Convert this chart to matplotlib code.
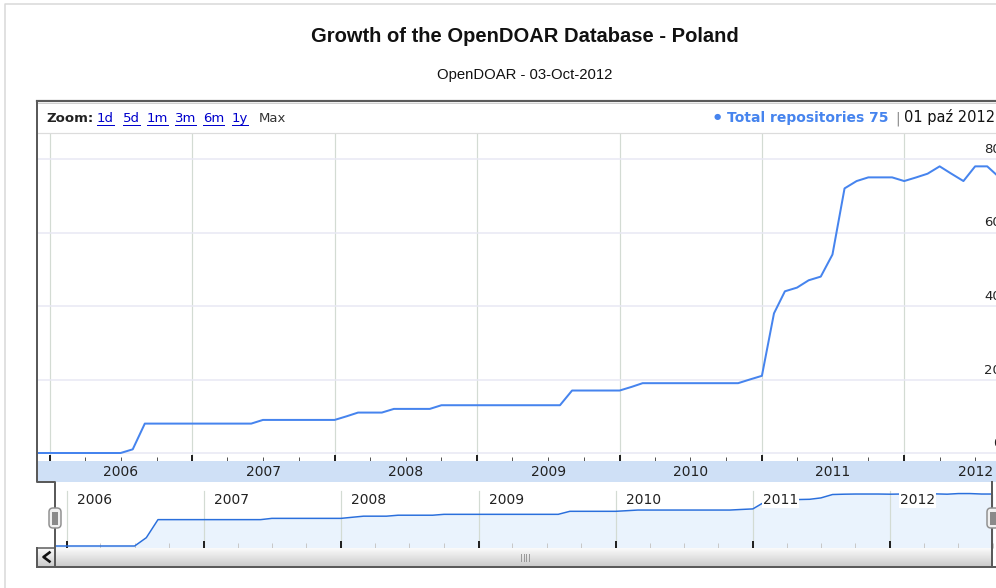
# Growth of the OpenDOAR Database - Poland (annotated timeline look)

import numpy as np
import pandas as pd

import matplotlib
matplotlib.use('Agg')
import matplotlib.pyplot as plt
import matplotlib.dates as mdates
import matplotlib.transforms as mtransforms
from matplotlib.patches import Rectangle, FancyBboxPatch
# --------------------------------------------------------------------------------------
# Data

title    = 'Growth of the OpenDOAR Database - Poland'
subtitle = 'OpenDOAR - 03-Oct-2012'

months = pd.date_range('2005-12-01', '2012-10-01', freq='MS')
repos  = [0,
          0, 0, 0, 0, 0, 0, 0, 1, 8, 8, 8, 8,               # 2006
          8, 8, 8, 8, 8, 8, 9, 9, 9, 9, 9, 9,               # 2007
          9, 10, 11, 11, 11, 12, 12, 12, 12, 13, 13, 13,    # 2008
          13, 13, 13, 13, 13, 13, 13, 13, 17, 17, 17, 17,   # 2009
          17, 18, 19, 19, 19, 19, 19, 19, 19, 19, 19, 20,   # 2010
          21, 38, 44, 45, 47, 48, 54, 72, 74, 75, 75, 75,   # 2011
          74, 75, 76, 78, 76, 74, 78, 78, 75, 75]           # 2012

years      = [2006, 2007, 2008, 2009, 2010, 2011, 2012]
ytick_vals = [0, 20, 40, 60, 80]
zoom_links = ['1d', '5d', '1m', '3m', '6m', '1y']
series     = 'Total repositories'
last_date  = '01 paź 2012'
# --------------------------------------------------------------------------------------
# Helpers

W, H = 996, 588
px = 0.72  # one pixel in points

def rect(x0, y0, x1, y1):
    return [x0 / W, 1 - y1 / H, (x1 - x0) / W, (y1 - y0) / H]

VER = ['DejaVu Sans']
ARI = ['Liberation Sans', 'DejaVu Sans']

fig = plt.figure(figsize=(W / 100, H / 100), dpi=100)
fig.patch.set_facecolor('white')

# background / overlay in pixel coordinates
bg = fig.add_axes([0, 0, 1, 1], zorder=0)
ov = fig.add_axes([0, 0, 1, 1], zorder=10)
for a in (bg, ov):
    a.set_xlim(0, W)
    a.set_ylim(H, 0)
    a.axis('off')

# page frame
bg.plot([5, 5, W], [H, 4, 4], color='#d8d8d8', lw=1.5 * px)

# titles
bg.text(525, 36, title, ha='center', va='center', fontsize=14.5, fontweight='bold',
        family=ARI, color='#111')
bg.text(525, 75, subtitle, ha='center', va='center', fontsize=10.7, family=ARI, color='#111')
# --------------------------------------------------------------------------------------
# Main chart

ax = fig.add_axes(rect(38, 133, 1011, 461), zorder=1)
ax.set_xlim(months[0], months[-1])
ax.set_ylim(-8 / 3.675, 320 / 3.675)
ax.plot(months, repos, color='#4684ee', lw=2 * px, solid_joinstyle='round')

ax.set_yticks(ytick_vals)
ax.xaxis.set_major_locator(mdates.YearLocator())
ax.xaxis.set_minor_locator(mdates.MonthLocator(bymonth=[4, 7, 10]))
ax.grid(True, axis='x', which='major', color='#d3dbd3', lw=1.2 * px)
ax.grid(True, axis='y', color='#e8e8f4', lw=1.5 * px)
ax.set_axisbelow(True)
ax.tick_params(axis='x', which='major', direction='in', length=6 * px, width=2 * px,
               color='#222', labelbottom=False)
ax.tick_params(axis='x', which='minor', direction='in', length=4 * px, width=1 * px,
               color='#555')
ax.tick_params(axis='y', left=False, labelleft=False)
for s in ax.spines.values():
    s.set_visible(False)

ytrans = mtransforms.offset_copy(ax.get_yaxis_transform(), fig=fig, y=6, units='dots')
for v in ytick_vals:
    ax.text((1001 - 38) / (1011 - 38), v, str(v), transform=ytrans, ha='right', va='baseline',
            fontsize=9.5, family=VER, color='#222', clip_on=False)

# year band
band = fig.add_axes(rect(37, 461, 1011, 482), zorder=1)
band.set_facecolor('#cfe0f6')
band.set_xlim(months[0] - pd.Timedelta(days=2), months[-1])
band.set_xticks([])
band.set_yticks([])
for s in band.spines.values():
    s.set_visible(False)
for y in years:
    band.text(pd.Timestamp(f'{y}-07-02'), 0.5, str(y), transform=band.get_xaxis_transform(),
              ha='center', va='center', fontsize=10, family=VER, color='#222')
# --------------------------------------------------------------------------------------
# Navigator

nav = fig.add_axes(rect(55, 482, 993, 548), zorder=1)
nav.set_yscale('function', functions=(np.log1p, np.expm1))
nav.set_xlim(months[0], months[-1])
nav.set_ylim(np.expm1(-2 / 12), np.expm1(64 / 12))
nav.fill_between(months, repos, nav.get_ylim()[0], color='#eaf3fd', lw=0)
nav.plot(months, repos, color='#2a6fdc', lw=1.5 * px)
for y in years:
    nav.axvline(pd.Timestamp(f'{y}-01-01'), ymax=57 / 66, color='#d3dbd3', lw=1.2 * px, zorder=1)

nav.xaxis.set_major_locator(mdates.YearLocator())
nav.xaxis.set_minor_locator(mdates.MonthLocator(bymonth=[4, 7, 10]))
nav.tick_params(axis='x', which='major', direction='in', length=7 * px, width=2 * px,
                color='#222', labelbottom=False)
nav.tick_params(axis='x', which='minor', direction='in', length=5 * px, width=1 * px,
                color='#c8c8c8')
nav.tick_params(axis='y', which='both', left=False, labelleft=False)
nav.minorticks_on()
nav.yaxis.set_minor_locator(matplotlib.ticker.NullLocator())
nav.xaxis.set_minor_locator(mdates.MonthLocator(bymonth=[4, 7, 10]))
for s in nav.spines.values():
    s.set_visible(False)

ntrans = mtransforms.offset_copy(nav.get_xaxis_transform(), fig=fig, x=10, units='dots')
for y in years:
    nav.text(pd.Timestamp(f'{y}-01-01'), 0.73, str(y), transform=ntrans, ha='left',
             va='center', fontsize=10, family=VER, color='#222', zorder=5,
             bbox=dict(fc='white', ec='none', pad=0.6))
# --------------------------------------------------------------------------------------
# Scrollbar, frame and handles

grad = np.linspace(0.98, 0.80, 32).reshape(-1, 1)
ov.imshow(grad, extent=(55, 993, 566, 548), aspect='auto', cmap='gray', vmin=0, vmax=1,
          interpolation='bilinear', zorder=1)
ov.imshow(grad, extent=(37, 55, 566, 548), aspect='auto', cmap='gray', vmin=0, vmax=1,
          interpolation='bilinear', zorder=1)
ov.set_xlim(0, W)
ov.set_ylim(H, 0)
for gx in [521, 523.5, 526, 528.5]:
    ov.plot([gx, gx], [554, 561], color='#9a9a9a', lw=1 * px, zorder=2)
ov.plot([49.5, 43.5, 49.5], [552.5, 557, 561.5], color='#111', lw=2.6 * px, zorder=3)

fc = '#5a5a5a'
ov.plot([37, 1000], [101, 101], color=fc, lw=2.2 * px, zorder=4)
ov.plot([38, 1000], [103, 103], color='#d0d0d0', lw=1 * px, zorder=4)
ov.plot([38, 1000], [133, 133], color='#dcdcdc', lw=1.2 * px, zorder=4)
ov.plot([37, 37, 55, 55], [101, 482, 482, 567], color=fc, lw=2 * px, zorder=4)
ov.plot([37, 37], [548, 567], color=fc, lw=2 * px, zorder=4)
ov.plot([37, 55], [548, 548], color=fc, lw=1.5 * px, zorder=4)
ov.plot([37, 1000], [567, 567], color=fc, lw=2 * px, zorder=4)
ov.plot([992, 992], [482, 567], color=fc, lw=2 * px, zorder=4)

for hx in (55, 993):
    ov.add_patch(FancyBboxPatch((hx - 6, 508), 12, 20,
                                boxstyle='round,pad=0,rounding_size=4',
                                fc='#f0f0f0', ec='#909090', lw=1.5 * px, zorder=5))
    ov.add_patch(Rectangle((hx - 3, 511.5), 6, 13, fc='#8a8a8a', ec='none', zorder=6))
# --------------------------------------------------------------------------------------
# Header row

ov.text(46, 122, 'Zoom:', fontsize=9.5, fontweight='bold', family=VER, color='#222',
        va='baseline')
link_x = [97, 123, 147, 175, 203, 232]
link_txt = []
for lx, lab in zip(link_x, zoom_links):
    link_txt.append(ov.text(lx, 122, lab, fontsize=9.5, family=VER, color='#0000cc',
                            va='baseline'))
ov.text(259, 122, 'Max', fontsize=9.5, family=VER, color='#333', va='baseline')

ov.text(717, 117, '●', fontsize=6, family=VER, color='#4684ee', ha='center', va='center')
ov.text(727, 122, f'{series} {repos[-1]}', fontsize=10, fontweight='bold', family=VER,
        color='#4684ee', va='baseline')
ov.text(895, 122, '|', fontsize=10, family=VER, color='#888', va='baseline')
ov.text(904, 122, last_date, fontsize=10.5, family=VER, color='#111', va='baseline')

fig.canvas.draw()
for t in link_txt:
    bb = t.get_window_extent()
    ov.plot([bb.x0, bb.x1], [124.5, 124.5], color='#0000cc', lw=1 * px)

fig.savefig('out.png', dpi=100)
